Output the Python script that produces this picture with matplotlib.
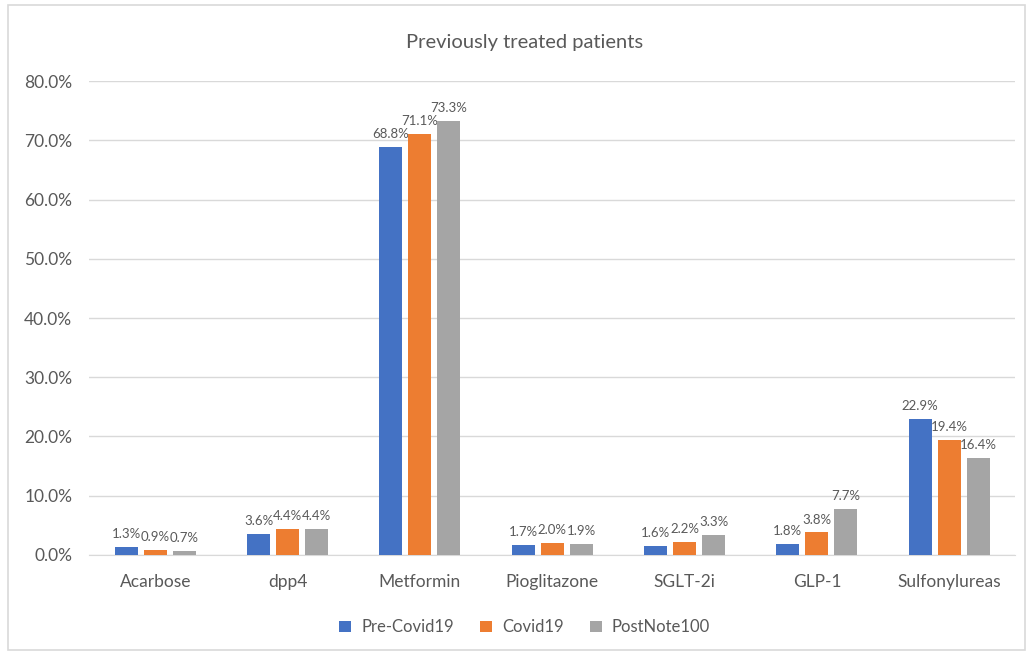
import numpy as np
import matplotlib
matplotlib.use('Agg')
import matplotlib.pyplot as plt
from matplotlib.patches import Rectangle
from matplotlib.ticker import FuncFormatter

plt.rcParams['font.family'] = ['Lato', 'DejaVu Sans']

categories = ['Acarbose', 'dpp4', 'Metformin', 'Pioglitazone', 'SGLT-2i', 'GLP-1', 'Sulfonylureas']
series_names = ['Pre-Covid19', 'Covid19', 'PostNote100']
pre_covid = [1.3, 3.6, 68.8, 1.7, 1.6, 1.8, 22.9]
covid = [0.9, 4.4, 71.1, 2.0, 2.2, 3.8, 19.4]
post_note = [0.7, 4.4, 73.3, 1.9, 3.3, 7.7, 16.4]
colors = ['#4472C4', '#ED7D31', '#A5A5A5']
text_col = '#595959'

fig = plt.figure(figsize=(10.27, 6.55), dpi=100)
ax = fig.add_axes([0.0867, 0.1527, 0.902, 0.7236])

x = np.arange(len(categories))
step = 0.219
width = 0.174
for i, (vals, name) in enumerate(zip([pre_covid, covid, post_note], series_names)):
    pos = x + (i - 1) * step
    bars = ax.bar(pos, vals, width, color=colors[i], label=name, zorder=3)
    for b, v in zip(bars, vals):
        ax.annotate('%.1f%%' % v, (b.get_x() + b.get_width() / 2, v),
                    xytext=(0, 5), textcoords='offset points',
                    ha='center', va='bottom', fontsize=9.5, color=text_col)

ax.set_xlim(-0.5, len(categories) - 0.5)
ax.set_ylim(0, 80)
ax.set_yticks(np.arange(0, 81, 10))
ax.yaxis.set_major_formatter(FuncFormatter(lambda v, p: '%.1f%%' % v))
ax.set_xticks(x)
ax.set_xticklabels(categories)
ax.tick_params(axis='both', length=0, labelsize=12.5, colors=text_col)
ax.tick_params(axis='x', pad=14)
ax.tick_params(axis='y', pad=12)
ax.grid(axis='y', color='#D9D9D9', linewidth=1, zorder=0)
for s in ['top', 'right', 'left']:
    ax.spines[s].set_visible(False)
ax.spines['bottom'].set_color('#D9D9D9')

fig.text(0.511, 0.935, 'Previously treated patients', ha='center', va='center',
         fontsize=14.5, color=text_col)

leg = fig.legend(loc='center', bbox_to_anchor=(0.511, 0.042), ncol=3, frameon=False,
                 fontsize=12, handlelength=0.7, handleheight=0.7, columnspacing=1.6,
                 handletextpad=0.6)
for t in leg.get_texts():
    t.set_color(text_col)

fig.patches.append(Rectangle((0.008, 0.008), 0.99, 0.985, transform=fig.transFigure,
                             fill=False, edgecolor='#D9D9D9', linewidth=1.2))

fig.savefig('out.png', dpi=100)
